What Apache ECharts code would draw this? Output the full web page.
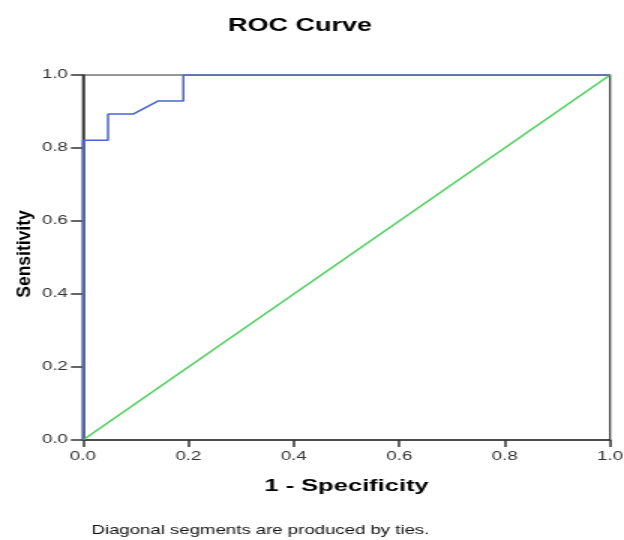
<!DOCTYPE html>
<html>
<head>
<meta charset="utf-8">
<script src="https://cdn.jsdelivr.net/npm/echarts@6/dist/echarts.min.js"></script>
<style>
  html, body { margin: 0; padding: 0; background: #fff; overflow: hidden; }
  /* the reference picture is stretched 1.5x horizontally, so draw at 416 wide and stretch */
  #chart { width: 416px; height: 540px; transform: scaleX(1.5); transform-origin: 0 0; }
</style>
</head>
<body>
<div id="chart"></div>
<script>
// ROC curve points (1 - specificity, sensitivity)
const rocX = [0, 0, 0.0476, 0.0476, 0.0952, 0.1429, 0.1905, 0.1905, 1];
const rocY = [0, 0.821, 0.821, 0.893, 0.893, 0.929, 0.929, 1, 1];
// reference diagonal
const refX = [0, 1];
const refY = [0, 1];
const tickLabels = ['0.0', '0.2', '0.4', '0.6', '0.8', '1.0'];

const font = '"Liberation Sans", Arial, sans-serif';

const chart = echarts.init(document.getElementById('chart'));

const axisCommon = {
    type: 'value',
    min: 0,
    max: 1,
    interval: 0.2,
    splitLine: { show: false },
    axisLine: { show: true, onZero: false, lineStyle: { color: '#333', width: 1.5 } },
    axisLabel: {
        color: '#333',
        fontFamily: font,
        fontSize: 12.5,
        formatter: v => tickLabels[Math.round(v * 5)]
    }
};

chart.setOption({
    animation: false,
    title: [
        {
            text: 'ROC Curve',
            left: 200,
            top: 17,
            padding: 0,
            textAlign: 'center',
            textStyle: { fontFamily: font, fontSize: 18, fontWeight: 'bold', color: '#000' }
        },
        {
            text: 'Diagonal segments are produced by ties.',
            left: 61,
            top: 525,
            padding: 0,
            textStyle: { fontFamily: font, fontSize: 12.4, fontWeight: 'normal', color: '#111' }
        }
    ],
    graphic: [
        {
            type: 'text',
            x: 16.5,
            y: 254,
            rotation: Math.PI / 2,
            scaleX: 1.03,
            scaleY: 0.78,
            style: {
                text: 'Sensitivity',
                fontFamily: font,
                fontSize: 17,
                fontWeight: 'bold',
                fill: '#000',
                align: 'center',
                verticalAlign: 'middle'
            }
        }
    ],
    grid: {
        left: 55.3,
        right: 9.3,
        top: 75,
        bottom: 100,
        outerBoundsMode: 'none',
        show: true,
        borderColor: '#333',
        borderWidth: 1.2,
        backgroundColor: 'transparent'
    },
    xAxis: Object.assign({}, axisCommon, {
        name: '1 - Specificity',
        nameLocation: 'middle',
        nameGap: 38,
        nameTextStyle: { fontFamily: font, fontSize: 17, fontWeight: 'bold', color: '#000' },
        axisTick: { show: true, length: 7, lineStyle: { color: '#333', width: 1.5 } },
        axisLabel: Object.assign({}, axisCommon.axisLabel, { margin: 10 })
    }),
    yAxis: Object.assign({}, axisCommon, {
        axisTick: { show: true, length: 8, lineStyle: { color: '#333', width: 1.5 } },
        axisLabel: Object.assign({}, axisCommon.axisLabel, { margin: 10 })
    }),
    series: [
        {
            name: 'Reference',
            type: 'line',
            symbol: 'none',
            data: refX.map((x, i) => [x, refY[i]]),
            lineStyle: { color: '#4fcf5f', width: 1.5 },
            z: 2
        },
        {
            name: 'ROC',
            type: 'line',
            symbol: 'none',
            data: rocX.map((x, i) => [x, rocY[i]]),
            lineStyle: { color: '#4a66c8', width: 1.5 },
            z: 3
        }
    ]
});
</script>
</body>
</html>
